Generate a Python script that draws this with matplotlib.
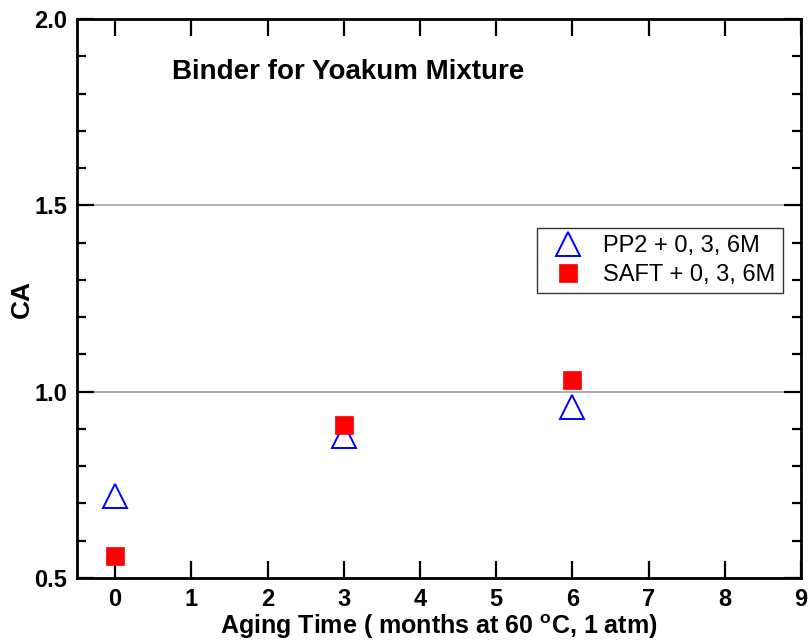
import matplotlib
matplotlib.use("Agg")
import matplotlib.pyplot as plt
from matplotlib.ticker import MultipleLocator

plt.rcParams['font.family'] = ['Liberation Sans', 'DejaVu Sans']
plt.rcParams['mathtext.fontset'] = 'custom'
plt.rcParams['mathtext.rm'] = 'Liberation Sans:bold'
plt.rcParams['mathtext.bf'] = 'Liberation Sans:bold'

months = [0, 3, 6]
pp2_ca = [0.72, 0.88, 0.96]
saft_ca = [0.56, 0.91, 1.03]
series_labels = ["PP2 + 0, 3, 6M", "SAFT + 0, 3, 6M"]
title_text = "Binder for Yoakum Mixture"
xlabel_text = r"Aging Time ( months at 60 $^{\rm o}$C, 1 atm)"
ylabel_text = "CA"
xticks = list(range(0, 10))
yticks = [0.5, 1.0, 1.5, 2.0]

fig = plt.figure(figsize=(8.08, 6.43), dpi=100)
ax = fig.add_axes([77/808, 65/643, (801-77)/808, (578-19)/643])

ax.set_xlim(-0.5, 9)
ax.set_ylim(0.5, 2.0)
for y in [1.0, 1.5]:
    ax.axhline(y, color='#a0a0a0', lw=1.2, zorder=0)

ax.plot(months, pp2_ca, linestyle='none', marker='^', markersize=17,
        markerfacecolor='none', markeredgecolor='#0000ff', markeredgewidth=1.4,
        label=series_labels[0], zorder=3)
ax.plot(months, saft_ca, linestyle='none', marker='s', markersize=13,
        markerfacecolor='#ff0000', markeredgecolor='#ff0000', markeredgewidth=0.5,
        label=series_labels[1], zorder=4)

ax.set_xticks(xticks)
ax.set_yticks(yticks)
ax.set_yticklabels([f"{v:.1f}" for v in yticks])
ax.yaxis.set_minor_locator(MultipleLocator(0.1))
ax.tick_params(which='both', direction='in', top=True, right=True, width=1.6)
ax.tick_params(which='major', length=12, labelsize=17, pad=7)
ax.tick_params(which='minor', length=6.5)
ax.tick_params(axis='x', which='minor', top=False, bottom=False)
for lab in ax.get_xticklabels() + ax.get_yticklabels():
    lab.set_fontweight('bold')
for s in ax.spines.values():
    s.set_linewidth(2)

ax.set_xlabel(xlabel_text, fontsize=18, fontweight='bold', labelpad=1)
ax.set_ylabel(ylabel_text, fontsize=19, fontweight='bold', labelpad=0)
ax.text((172-77)/724, (578-72)/559, title_text, transform=ax.transAxes,
        fontsize=20, fontweight='bold', va='center', ha='left')

leg = ax.legend(loc='upper left', bbox_to_anchor=((537-77)/724, (578-228)/559),
                fontsize=17, frameon=True, fancybox=False, edgecolor='black',
                borderpad=0.3, handletextpad=0.5, borderaxespad=0, numpoints=1,
                labelspacing=0.3)
leg.get_frame().set_linewidth(1.0)

fig.savefig("out.png", dpi=100)
